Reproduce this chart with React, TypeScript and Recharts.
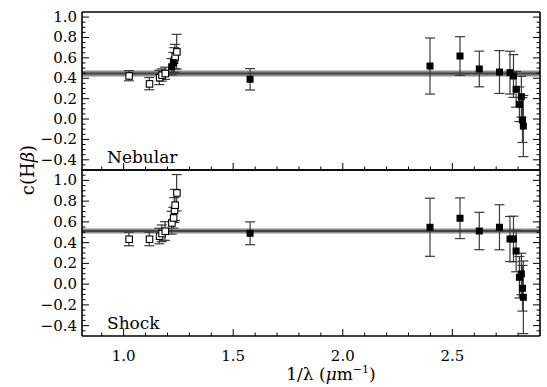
import React from "react";
import {
  ScatterChart,
  Scatter,
  XAxis,
  YAxis,
  ErrorBar,
  ReferenceArea,
  ReferenceLine,
} from "recharts";

// 1/lambda of each line (um^-1), shared by both panels
const lineX = [
  1.024, 1.117, 1.163, 1.174, 1.189, 1.219, 1.227, 1.231, 1.234, 1.242,
  1.577, 2.398, 2.535, 2.623, 2.715, 2.763, 2.779, 2.791, 2.806, 2.815,
  2.82, 2.824,
];

// Nebular panel
const nebularY = [
  0.425, 0.347, 0.408, 0.432, 0.449, 0.513, 0.553, 0.58, 0.612, 0.661,
  0.39, 0.52, 0.618, 0.491, 0.461, 0.455, 0.422, 0.292, 0.145, 0.219,
  -0.01, -0.069,
];
const nebularErr = [
  0.05, 0.06, 0.07, 0.06, 0.06, 0.08, 0.1, 0.12, 0.12, 0.17, 0.105, 0.275,
  0.19, 0.175, 0.21, 0.21, 0.21, 0.175, 0.17, 0.2, 0.22, 0.3,
];
const nebularFilled = [
  false, false, false, false, false, true, true, false, false, false,
  true, true, true, true, true, true, true, true, true, true, true, true,
];
const nebularMean = 0.447;
const nebularSpread = 0.03;

// Shock panel
const shockY = [
  0.435, 0.435, 0.464, 0.49, 0.512, 0.592, 0.64, 0.714, 0.763, 0.881,
  0.49, 0.548, 0.635, 0.512, 0.548, 0.435, 0.435, 0.319, 0.066, 0.098,
  -0.04, -0.127,
];
const shockErr = [
  0.065, 0.065, 0.075, 0.08, 0.09, 0.11, 0.1, 0.12, 0.15, 0.175, 0.11, 0.28,
  0.196, 0.18, 0.217, 0.217, 0.22, 0.2, 0.2, 0.2, 0.22, 0.35,
];
const shockFilled = [
  false, false, false, false, false, false, false, false, false, false,
  true, true, true, true, true, true, true, true, true, true, true, true,
];
const shockMean = 0.512;
const shockSpread = 0.025;

const xMajor = [1.0, 1.5, 2.0, 2.5];
const yMajor = [-0.4, -0.2, 0.0, 0.2, 0.4, 0.6, 0.8, 1.0];

const xTicks = Array.from({ length: 20 }, (_, i) => Math.round(9 + i) / 10);
const yTicksTop = Array.from({ length: 30 }, (_, i) => ((i - 9) * 5) / 100);
const yTicksBottom = Array.from({ length: 31 }, (_, i) => ((i - 9) * 5) / 100);

const FONT = "DejaVu Serif";
const W = 547;
const LEFT = 81;
const RIGHT = 6;

const near = (v: number, list: number[]) =>
  list.some((m) => Math.abs(m - v) < 1e-6);

const fmt = (v: number) => {
  const s = Math.abs(v) < 1e-9 ? "0.0" : v.toFixed(1);
  return s.replace("-", "\u2212");
};

const build = (ys: number[], errs: number[], filled: boolean[], want: boolean) =>
  lineX
    .map((x, i) => ({ x, y: ys[i], err: errs[i], filled: filled[i] }))
    .filter((d) => d.filled === want);

const FilledSquare = (props: any) => (
  <rect x={props.cx - 3.5} y={props.cy - 3.5} width={7} height={7} fill="#000" />
);
const OpenSquare = (props: any) => (
  <rect
    x={props.cx - 3}
    y={props.cy - 3}
    width={6.5}
    height={6.5}
    fill="#fff"
    stroke="#000"
    strokeWidth={1.1}
  />
);

const XTick = ({ x, y, payload, dir, labels }: any) => {
  const major = near(payload.value, xMajor);
  const len = major ? 7 : 3.5;
  return (
    <g>
      <line x1={x} x2={x} y1={y} y2={y + dir * len} stroke="#000" />
      {labels && major && (
        <text
          x={x}
          y={y + 20}
          textAnchor="middle"
          dominantBaseline="central"
          fontFamily={FONT}
          fontSize={15}
          fill="#000"
        >
          {payload.value.toFixed(1)}
        </text>
      )}
    </g>
  );
};

const YTick = ({ x, y, payload, dir, labels }: any) => {
  const major = near(payload.value, yMajor);
  const len = major ? 7 : 3.5;
  return (
    <g>
      <line x1={x} x2={x + dir * len} y1={y} y2={y} stroke="#000" />
      {labels && major && (
        <text
          x={x - 5}
          y={y}
          textAnchor="end"
          dominantBaseline="central"
          fontFamily={FONT}
          fontSize={15}
          fill="#000"
        >
          {fmt(payload.value)}
        </text>
      )}
    </g>
  );
};

const axisLine = { stroke: "#000", strokeWidth: 1.6 };

const Panel = ({
  height,
  margin,
  yDomain,
  yTicks,
  ys,
  errs,
  filled,
  mean,
  spread,
  xLabels,
}: any) => (
  <ScatterChart width={W} height={height} margin={margin} style={{ overflow: "visible" }}>
    <XAxis
      type="number"
      dataKey="x"
      domain={[0.81, 2.9]}
      allowDataOverflow
      ticks={xTicks}
      interval={0}
      height={1}
      tickSize={0}
      tickMargin={0}
      tickLine={false}
      axisLine={axisLine}
      tick={(p: any) => <XTick {...p} dir={-1} labels={xLabels} />}
    />
    <XAxis
      xAxisId="top"
      orientation="top"
      type="number"
      domain={[0.81, 2.9]}
      allowDataOverflow
      ticks={xTicks}
      interval={0}
      height={1}
      tickSize={0}
      tickMargin={0}
      tickLine={false}
      axisLine={axisLine}
      tick={(p: any) => <XTick {...p} dir={1} labels={false} />}
    />
    <YAxis
      type="number"
      dataKey="y"
      domain={yDomain}
      allowDataOverflow
      ticks={yTicks}
      interval={0}
      width={1}
      tickSize={0}
      tickMargin={0}
      tickLine={false}
      axisLine={axisLine}
      tick={(p: any) => <YTick {...p} dir={1} labels />}
    />
    <YAxis
      yAxisId="right"
      orientation="right"
      type="number"
      domain={yDomain}
      allowDataOverflow
      ticks={yTicks}
      interval={0}
      width={1}
      tickSize={0}
      tickMargin={0}
      tickLine={false}
      axisLine={axisLine}
      tick={(p: any) => <YTick {...p} dir={-1} labels={false} />}
    />
    <ReferenceArea
      y1={mean - spread}
      y2={mean + spread}
      fill="#8c8c8c"
      fillOpacity={1}
      stroke="none"
    />
    <ReferenceLine y={mean} stroke="#444" strokeWidth={2} />
    <Scatter
      data={build(ys, errs, filled, false)}
      shape={OpenSquare}
      isAnimationActive={false}
    >
      <ErrorBar
        dataKey="err"
        direction="y"
        width={5}
        stroke="#3a3a3a"
        strokeWidth={1.2}
        isAnimationActive={false}
      />
    </Scatter>
    <Scatter
      data={build(ys, errs, filled, true)}
      shape={FilledSquare}
      isAnimationActive={false}
    >
      <ErrorBar
        dataKey="err"
        direction="y"
        width={5}
        stroke="#3a3a3a"
        strokeWidth={1.2}
        isAnimationActive={false}
      />
    </Scatter>
  </ScatterChart>
);

export default function App() {
  return (
    <div
      style={{
        position: "absolute",
        left: 0,
        top: 0,
        width: W,
        height: 387,
        background: "#fff",
      }}
    >
      <div style={{ position: "absolute", left: 0, top: 0 }}>
        <Panel
          height={171}
          margin={{ top: 11, right: RIGHT, bottom: 0, left: LEFT }}
          yDomain={[-0.5, 1.05]}
          yTicks={yTicksTop}
          ys={nebularY}
          errs={nebularErr}
          filled={nebularFilled}
          mean={nebularMean}
          spread={nebularSpread}
          xLabels={false}
        />
      </div>
      <div style={{ position: "absolute", left: 0, top: 169 }}>
        <Panel
          height={218}
          margin={{ top: 0, right: RIGHT, bottom: 50, left: LEFT }}
          yDomain={[-0.5, 1.1]}
          yTicks={yTicksBottom}
          ys={shockY}
          errs={shockErr}
          filled={shockFilled}
          mean={shockMean}
          spread={shockSpread}
          xLabels
        />
      </div>
      <svg
        width={W}
        height={387}
        style={{ position: "absolute", left: 0, top: 0, pointerEvents: "none" }}
      >
        <text x={107} y={163} fontFamily={FONT} fontSize={17} fill="#000">
          Nebular
        </text>
        <text x={107} y={329} fontFamily={FONT} fontSize={17} fill="#000">
          Shock
        </text>
        <text
          x={0}
          y={0}
          transform="translate(34,170) rotate(-90)"
          textAnchor="middle"
          fontFamily={FONT}
          fontSize={18}
          fill="#000"
        >
          c(H<tspan fontStyle="italic">β</tspan>)
        </text>
        <text x={331} y={380} textAnchor="middle" fontFamily={FONT} fontSize={17} fill="#000">
          1/λ (<tspan fontStyle="italic">μ</tspan>m
          <tspan dy={-7} fontSize={11}>−1</tspan>
          <tspan dy={7}>)</tspan>
        </text>
      </svg>
    </div>
  );
}
